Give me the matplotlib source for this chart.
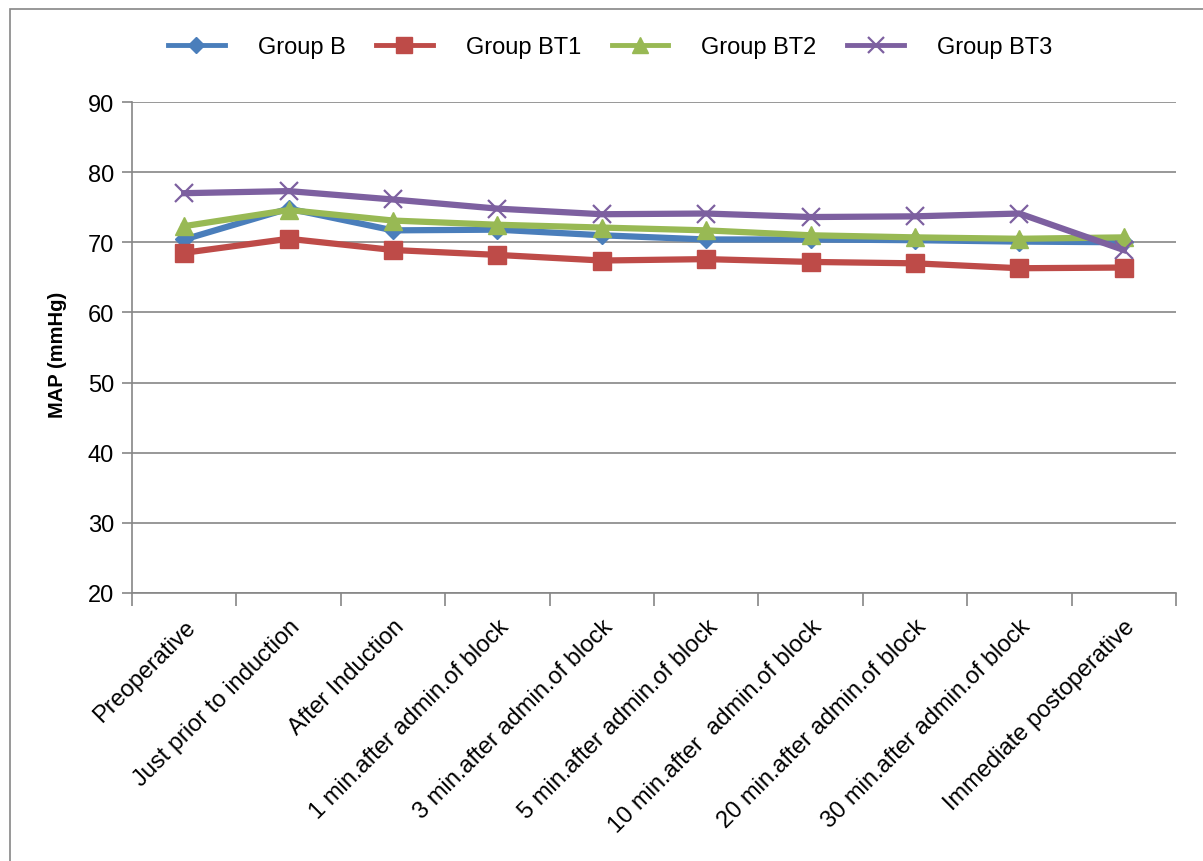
import matplotlib.pyplot as plt
from matplotlib.patches import Rectangle

plt.rcParams['font.family'] = ['Liberation Sans', 'DejaVu Sans']

categories = ['Preoperative', 'Just prior to induction', 'After Induction',
              '1 min.after admin.of block', '3 min.after admin.of block',
              '5 min.after admin.of block', '10 min.after  admin.of block',
              '20 min.after admin.of block', '30 min.after admin.of block',
              'Immediate postoperative']

group_b = [70.4, 74.8, 71.7, 71.8, 71.0, 70.4, 70.4, 70.3, 70.1, 70.0]
group_bt1 = [68.5, 70.5, 68.9, 68.2, 67.4, 67.6, 67.2, 67.0, 66.3, 66.4]
group_bt2 = [72.3, 74.6, 73.1, 72.5, 72.1, 71.7, 71.0, 70.7, 70.5, 70.7]
group_bt3 = [77.0, 77.3, 76.1, 74.8, 74.0, 74.1, 73.6, 73.7, 74.1, 68.9]

fig = plt.figure(figsize=(12.03, 8.62), dpi=100)
# chart-area frame
fig.patches.append(Rectangle((10 / 1203, -0.05), 1.2, 1.05 - 10 / 862,
                             transform=fig.transFigure, fill=False,
                             edgecolor='#868686', linewidth=1.2))

ax = fig.add_axes([132 / 1203, 1 - 594 / 862, 1044 / 1203, 491 / 862])

x = range(len(categories))
ax.plot(x, group_b, color='#4a7ebb', lw=4.5, marker='D', ms=9, label='Group B')
ax.plot(x, group_bt1, color='#be4b48', lw=4.5, marker='s', ms=13, label='Group BT1')
ax.plot(x, group_bt2, color='#98b954', lw=4.5, marker='^', ms=13, label='Group BT2')
ax.plot(x, group_bt3, color='#7d60a0', lw=4.5, marker='x', ms=13, mew=1.6, label='Group BT3')

ax.set_xlim(-0.5, len(categories) - 0.5)
ax.set_ylim(20, 90)
ax.set_yticks(range(20, 91, 10))
ax.yaxis.grid(True, color='#868686', lw=1.2)
ax.set_axisbelow(True)

ax.set_xticks(x)
ax.set_xticklabels(categories, rotation=45, ha='right', rotation_mode='anchor', fontsize=17)
ax.set_xticks([i - 0.5 for i in range(len(categories) + 1)], minor=True)
ax.tick_params(axis='x', which='major', length=0, pad=16)
ax.tick_params(axis='x', which='minor', length=9, color='#868686', width=1.2, direction='out')
ax.tick_params(axis='y', length=7, color='#868686', width=1.2, labelsize=17, pad=6)

for side in ['top', 'right']:
    ax.spines[side].set_visible(False)
for side in ['left', 'bottom']:
    ax.spines[side].set_color('#868686')
    ax.spines[side].set_linewidth(1.2)

ax.set_ylabel('MAP (mmHg)', fontsize=14.5, fontweight='bold')
ax.yaxis.set_label_coords(-0.062, 0.487)

leg = ax.legend(loc='center', bbox_to_anchor=(0.458, 1.0 + 55 / 491), ncol=4,
                frameon=False, fontsize=17, handlelength=2.4, columnspacing=1.3,
                handletextpad=1.4, markerscale=0.85)
for line in leg.get_lines():
    line.set_linewidth(3.5)

fig.savefig('out.png', dpi=100)
